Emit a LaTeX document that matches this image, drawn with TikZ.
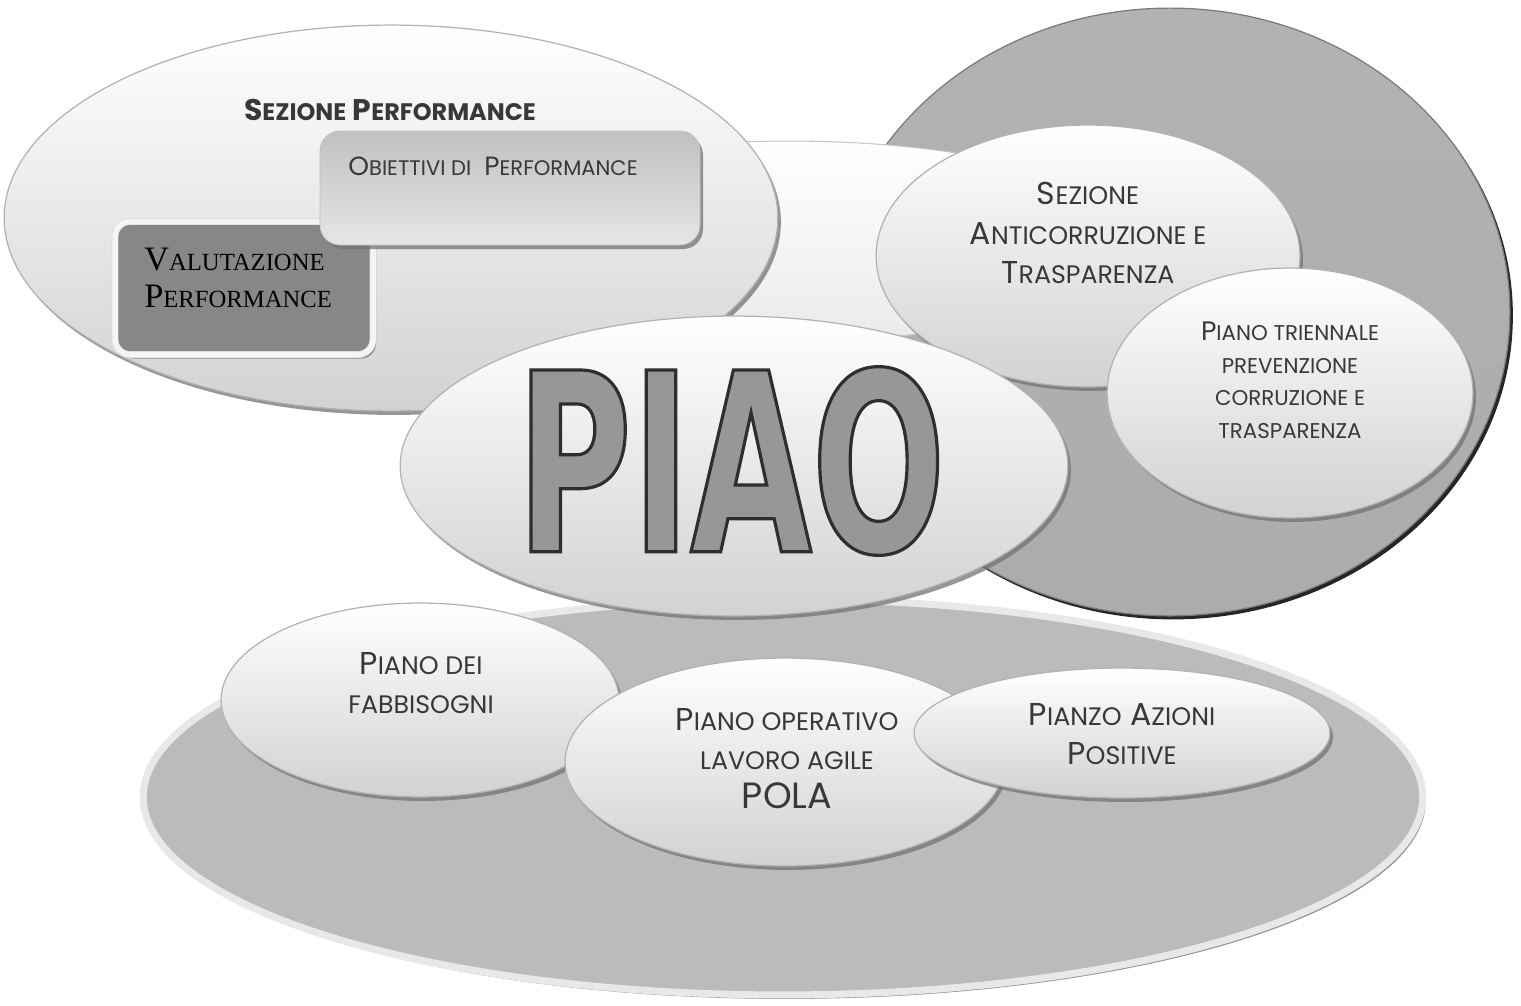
\documentclass[tikz,border=0pt]{standalone}
\usepackage{fontspec}
\usepackage{graphicx}
\usetikzlibrary{shapes.geometric,shadows}
\setmainfont{Poppins}
\newfontfamily\piaofont[FakeStretch=0.63]{DejaVu Sans}
\newfontfamily\serfont{Liberation Serif}
\newcommand\sk[1]{\scalebox{0.8}{#1}}
\newcommand\smc[2]{#1\scalebox{0.8}{#2}}
\newcommand\smcs[2]{#1\scalebox{0.72}{#2}}
\newcommand\strokeon{\special{pdf:literal direct 2 Tr 1.8 w 0.18 G}}
\newcommand\strokeoff{\special{pdf:literal direct 0 Tr}}
\definecolor{tc}{HTML}{383838}
\definecolor{edge}{HTML}{B2B2B2}
\definecolor{lowgray}{HTML}{D2D2D2}
\definecolor{basefill}{HTML}{BBBBBB}
\definecolor{baserim}{HTML}{E8E8E8}
\definecolor{ringtop}{HTML}{B2B2B2}
\definecolor{ringmid}{HTML}{8E8E8E}
\definecolor{ringbot}{HTML}{ACACAC}
\definecolor{ringedge}{HTML}{7A7A7A}
\definecolor{valfill}{HTML}{878787}
\definecolor{valrim}{HTML}{F5F5F5}
\definecolor{objdark}{HTML}{C0C0C0}
\definecolor{objlight}{HTML}{E6E6E6}
\definecolor{piaofill}{HTML}{979797}
\begin{document}
\begin{tikzpicture}[x=0.02cm,y=-0.02cm,
  ell/.style 2 args={ellipse, inner sep=0pt, minimum width=#1*0.04cm, minimum height=#2*0.04cm},
  lite/.style={top color=white, bottom color=lowgray, draw=edge, line width=0.7pt},
  shad/.style={drop shadow={shadow xshift=0.06cm, shadow yshift=-0.08cm, fill=black!55, opacity=0.75}},
  txt/.style={text=tc, inner sep=0pt, align=center}]
\useasboundingbox (0,0) rectangle (1521,1005);
% background shapes
\node[ell={640}{198}, fill=basefill, draw=baserim, line width=0.14cm, shad] (base) at (783,797) {};
\node[ell={340}{304}, top color=ringtop, middle color=ringmid, bottom color=ringbot, draw=ringedge, line width=0.7pt,
      drop shadow={shadow xshift=0.06cm, shadow yshift=-0.07cm, fill=black!85, opacity=1}] (ring) at (1170,312) {};
\node[ell={350}{100}, top color=white, bottom color=white!92!black, draw=white!78!black, line width=0.6pt] (bridge) at (790,241) {};
% performance section
\node[ell={387}{193}, lite, shad] (perf) at (391,218) {};
\node[rectangle, rounded corners=0.3cm, minimum width=258*0.02cm, minimum height=133*0.02cm, fill=valfill,
      draw=white!85!black, double=valrim, double distance=0.11cm, line width=0.4pt, shad] (valbox) at (244,288) {};
\node[rectangle, rounded corners=0.4cm, minimum width=380*0.02cm, minimum height=114*0.02cm,
      top color=objdark, bottom color=objlight,
      draw=white!75!black, line width=0.4pt, shad] (objbox) at (510,188) {};
% anticorruption section
\node[ell={212}{131}, lite, shad] (anti) at (1088,256) {};
\node[ell={183}{125}, lite, shad] (ptpc) at (1290,393) {};
% PIAO
\node[ell={334}{150}, lite, shad] (piaoell) at (734,466) {};
% bottom section
\node[ell={199}{97}, lite, shad] (fabb) at (420,700) {};
\node[ell={220}{104}, lite, shad] (pola) at (785,762) {};
\node[ell={208}{65}, lite, shad] (azioni) at (1122,733) {};
% texts
\node[txt, anchor=north, font=\bfseries\fontsize{17}{20}\selectfont] (tperf) at (390,99)
  {\smc{S}{EZIONE} \smc{P}{ERFORMANCE}};
\node[txt, anchor=north, font=\fontsize{15}{18}\selectfont] (tobj) at (493,157)
  {\smc{O}{BIETTIVI DI}\enspace\smc{P}{ERFORMANCE}};
\node[txt, anchor=north west, align=left, text=black, font=\serfont\fontsize{19.5}{21}\selectfont] (tval) at (144,248)
  {\smcs{V}{ALUTAZIONE}\\\smcs{P}{ERFORMANCE}};
\node[txt, anchor=north, font=\fontsize{18}{22.5}\selectfont] (tanti) at (1088,182)
  {\smc{S}{EZIONE}\\\smc{A}{NTICORRUZIONE E}\\\smc{T}{RASPARENZA}};
\node[txt, anchor=north, font=\fontsize{15.2}{18.5}\selectfont] (tptpc) at (1290,322)
  {\smc{P}{IANO TRIENNALE}\\\sk{PREVENZIONE}\\\sk{CORRUZIONE E}\\\sk{TRASPARENZA}};
\node[txt, anchor=north, font=\fontsize{18}{22.2}\selectfont] (tfabb) at (421,652)
  {\smc{P}{IANO DEI}\\\sk{FABBISOGNI}};
\node[txt, anchor=north, font=\fontsize{18}{22.2}\selectfont] (tpola) at (787,708)
  {\smc{P}{IANO OPERATIVO}\\\sk{LAVORO AGILE}\\{\fontsize{20.8}{22.2}\selectfont POLA}};
\node[txt, anchor=north, font=\fontsize{18}{22.2}\selectfont] (tazioni) at (1122,703)
  {\smc{P}{IANZO} \smc{A}{ZIONI}\\\smc{P}{OSITIVE}};
\node[inner sep=0pt, text=piaofill, font=\piaofont\bfseries\fontsize{142}{150}\selectfont] (piao) at (731,461)
  {\strokeon PIAO\strokeoff};
\end{tikzpicture}
\end{document}
